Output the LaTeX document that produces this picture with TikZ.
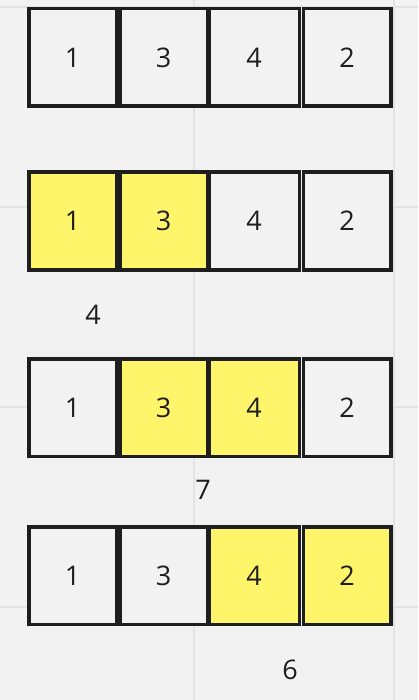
\documentclass[tikz,border=0pt]{standalone}
\usepackage{fontspec}
\setmainfont{Open Sans}
\definecolor{bg}{HTML}{F2F2F2}
\definecolor{gridc}{HTML}{E2E2E2}
\definecolor{ink}{HTML}{1E1E1E}
\definecolor{hl}{HTML}{FFF56B}
\begin{document}
\begin{tikzpicture}[x=1pt,y=-1pt,
  cell/.style={draw=ink,line width=3.5pt,fill=bg,minimum width=87.5pt,minimum height=97.5pt,inner sep=0pt,text=ink,font=\fontsize{27}{30}\selectfont},
  widecell/.style={cell,minimum width=90.5pt},
  hlcell/.style={cell,fill=hl},
  hlwide/.style={widecell,fill=hl},
  lbl/.style={text=ink,font=\fontsize{27}{30}\selectfont,inner sep=0pt}]
\fill[bg] (0,0) rectangle (418,700);
\useasboundingbox (0,0) rectangle (418,700);
\foreach \yy in {7,207,407,607} \draw[gridc,line width=1.5pt] (0,\yy) -- (418,\yy);
\foreach \xx in {194,394} \draw[gridc,line width=1.5pt] (\xx,0) -- (\xx,700);
% row 1
\node[cell] (a1) at (72.5,57.5) {1};
\node[cell] (a2) at (163.5,57.5) {3};
\node[widecell] (a3) at (254,57.5) {4};
\node[cell] (a4) at (347,57.5) {2};
% row 2
\node[hlcell] (b1) at (72.5,221) {1};
\node[hlcell] (b2) at (163.5,221) {3};
\node[widecell] (b3) at (254,221) {4};
\node[cell] (b4) at (347,221) {2};
\node[lbl] (l1) at (93,315) {4};
% row 3
\node[cell] (c1) at (72.5,407.5) {1};
\node[hlcell] (c2) at (163.5,407.5) {3};
\node[hlwide] (c3) at (254,407.5) {4};
\node[cell] (c4) at (347,407.5) {2};
\node[lbl] (l2) at (203,490) {7};
% row 4
\node[cell] (d1) at (72.5,575.5) {1};
\node[cell] (d2) at (163.5,575.5) {3};
\node[hlwide] (d3) at (254,575.5) {4};
\node[hlcell] (d4) at (347,575.5) {2};
\node[lbl] (l3) at (290,670) {6};
\end{tikzpicture}
\end{document}
